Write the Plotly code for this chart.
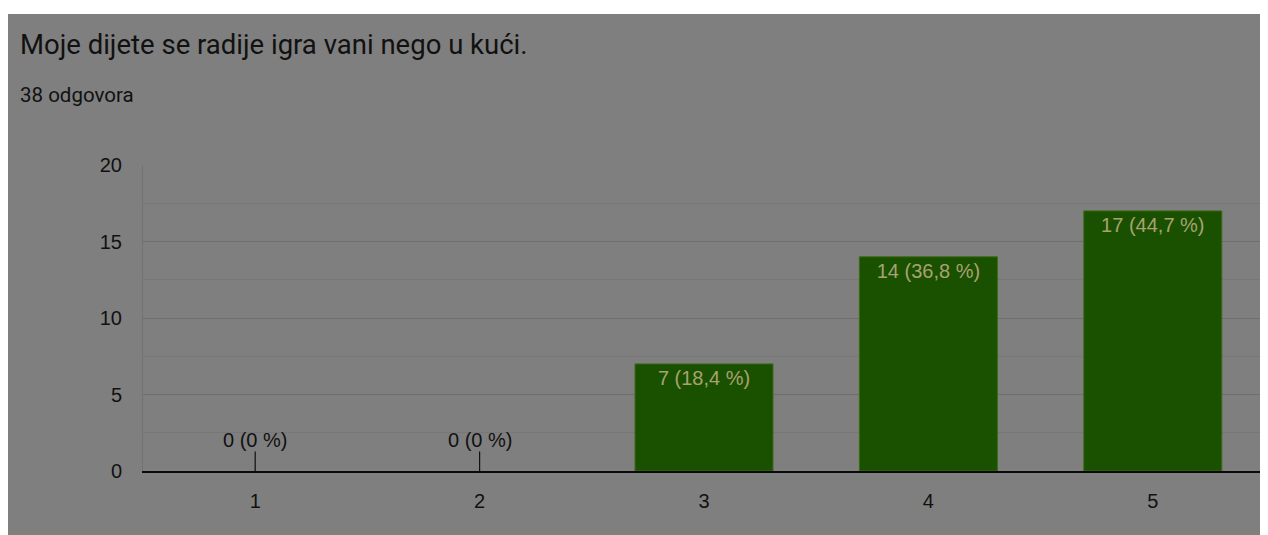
import plotly.graph_objects as go

# data
title = "Moje dijete se radije igra vani nego u kući."
subtitle = "38 odgovora"
categories = ["1", "2", "3", "4", "5"]
counts = [0, 0, 7, 14, 17]
total = 38
y_ticks = [0, 5, 10, 15, 20]

# the page puts the figure 8px in from the top-left corner
OFF = 8
W, H = 1268 - OFF, 535 - OFF
ml, mr, mt, mb = 143 - OFF, 3, 165 - OFF, 64
pw, ph = W - ml - mr, H - mt - mb

def px_x(p):
    # p in screen pixels
    return (p - OFF - ml) / pw

def px_y(p):
    return (H - mb - (p - OFF)) / ph

labels = []
for c in counts:
    pct = round(c / total * 100, 1)
    s = ("%.1f" % pct).replace(".", ",") if c else "0"
    labels.append("%d (%s %%)" % (c, s))

positions = ["inside" if c > 0 else "none" for c in counts]
outline = [1 if c > 0 else 0 for c in counts]

fig = go.Figure(go.Bar(
    x=categories, y=counts,
    text=labels, textposition=positions,
    insidetextanchor="end", constraintext="none", textangle=0,
    insidetextfont=dict(family="Liberation Sans, Arial", size=20, color="#a9a172"),
    marker=dict(color="#195100", line=dict(color="#3f6a14", width=outline)),
    hoverinfo="skip",
))

# zero bars get a label on a short leader line
for i, (c, lab) in enumerate(zip(counts, labels)):
    if c == 0:
        fig.add_annotation(x=i, y=c, text=lab, showarrow=True, arrowhead=0,
                           arrowwidth=1.2, arrowcolor="#111111", ax=0, ay=-31,
                           standoff=0, borderpad=0,
                           font=dict(family="Liberation Sans, Arial", size=20, color="#111111"))

fig.add_annotation(xref="paper", yref="paper", x=px_x(18), y=px_y(44), xanchor="left", yanchor="middle",
                   text=title, showarrow=False,
                   font=dict(family="Roboto", size=27.5, color="#111111"))
fig.add_annotation(xref="paper", yref="paper", x=px_x(18), y=px_y(95), xanchor="left", yanchor="middle",
                   text=subtitle, showarrow=False,
                   font=dict(family="Roboto", size=20.5, color="#111111"))

# white strip above the grey panel
fig.add_shape(type="rect", xref="paper", yref="paper", x0=px_x(0), x1=px_x(1300), y0=px_y(14), y1=px_y(0),
              fillcolor="white", line_width=0, layer="below")

fig.update_layout(
    width=W, height=H,
    margin=dict(l=ml, r=mr, t=mt, b=mb),
    paper_bgcolor="#7f7f7f", plot_bgcolor="#7f7f7f",
    bargap=0.385, showlegend=False,
    font=dict(family="Liberation Sans, Arial", size=20, color="#111111"),
)
fig.update_xaxes(
    type="category", showgrid=False, ticks="", showline=True, linecolor="#0a0a0a", linewidth=2,
    ticklabelstandoff=11, tickfont=dict(size=20, color="#111111"), zeroline=False,
)
fig.update_yaxes(
    range=[0, 20], tickvals=y_ticks, showgrid=True, gridcolor="#6e6e6e", gridwidth=1,
    minor=dict(dtick=2.5, showgrid=True, gridcolor="#777777", gridwidth=1),
    showline=True, mirror=True, linecolor="#727272", linewidth=1, zeroline=False,
    ticks="", ticklabelstandoff=16, tickfont=dict(size=20, color="#111111"),
)

fig.write_html("out.html")
